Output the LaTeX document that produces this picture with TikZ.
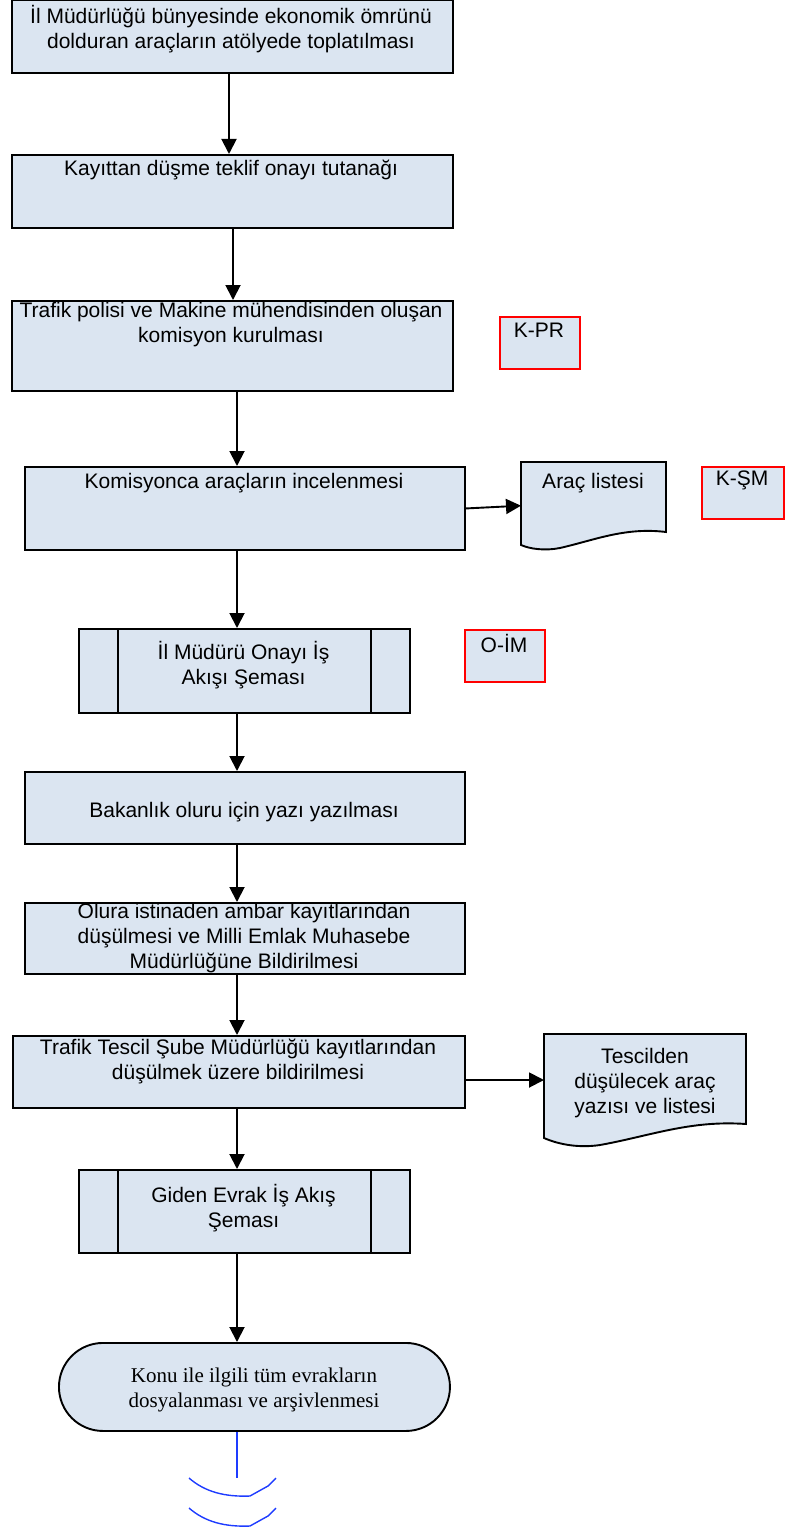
\documentclass[tikz,border=0pt]{standalone}
\usepackage{fontspec}
\setmainfont{Liberation Sans}
\newfontfamily\tnr{Liberation Serif}
\usetikzlibrary{arrows.meta,calc}
\definecolor{boxfill}{RGB}{219,229,241}
\definecolor{arcblue}{RGB}{30,60,255}
\begin{document}
\begin{tikzpicture}[x=1pt,y=-1pt,
  font=\fontsize{21}{25}\selectfont,
  box/.style={draw=black,line width=1.9pt,fill=boxfill,rectangle,inner sep=0pt,anchor=north west},
  refbox/.style={draw=red,line width=1.8pt,fill=boxfill,rectangle,inner sep=0pt,anchor=north west},
  txt/.style={align=center,inner sep=0pt},
  arr/.style={line width=1.9pt,-{Triangle[length=15pt,width=15pt]}},
  docshape/.style={draw=black,line width=1.9pt,fill=boxfill},
  ghost/.style={rectangle,draw=none,inner sep=0pt,anchor=north west},
  blueline/.style={draw=arcblue,line width=1.4pt}]
\useasboundingbox (0,0) rectangle (799,1530);

% main boxes
\node[box,minimum width=441pt,minimum height=73pt] (b1) at (11,-1) {};
\node[box,minimum width=441pt,minimum height=73pt] (b2) at (11,154) {};
\node[box,minimum width=441pt,minimum height=90pt] (b3) at (11,300) {};
\node[box,minimum width=440pt,minimum height=83pt] (b4) at (24,466) {};
\node[box,minimum width=331pt,minimum height=84pt] (b5) at (78,628) {};
\node[box,minimum width=440pt,minimum height=72pt] (b6) at (24,771) {};
\node[box,minimum width=440pt,minimum height=71pt] (b7) at (24,902) {};
\node[box,minimum width=452pt,minimum height=72pt] (b8) at (12,1035) {};
\node[box,minimum width=331pt,minimum height=83pt] (b9) at (78,1169) {};
\node[box,minimum width=391pt,minimum height=88pt,rounded corners=44pt] (term) at (58,1342) {};

% predefined process inner lines
\draw[line width=1.7pt] ($(b5.north west)+(40,0)$) -- ($(b5.south west)+(40,0)$);
\draw[line width=1.7pt] ($(b5.north east)+(-40,0)$) -- ($(b5.south east)+(-40,0)$);
\draw[line width=1.7pt] ($(b9.north west)+(40,0)$) -- ($(b9.south west)+(40,0)$);
\draw[line width=1.7pt] ($(b9.north east)+(-40,0)$) -- ($(b9.south east)+(-40,0)$);

% red reference boxes
\node[refbox,minimum width=80pt,minimum height=52pt] (kpr) at (499,316) {};
\node[refbox,minimum width=82pt,minimum height=52pt] (ksm) at (701,466) {};
\node[refbox,minimum width=80pt,minimum height=52pt] (oim) at (464,629) {};

% documents
\node[ghost,minimum width=145pt,minimum height=87pt] (d1) at (521,462) {};
\path[docshape] (521,462) -- (666,462) -- (666,532)
  .. controls (625,527) and (595,540) .. (560,548)
  .. controls (545,551) and (530,549) .. (521,545) -- cycle;
\node[ghost,minimum width=202pt,minimum height=112pt] (d2) at (544,1034) {};
\path[docshape] (544,1034) -- (746,1034) -- (746,1124)
  .. controls (690,1120) and (650,1136) .. (600,1145)
  .. controls (580,1148) and (560,1145) .. (544,1138) -- cycle;

% texts
\node[txt] (t1) at (231,29.5) {İl Müdürlüğü bünyesinde ekonomik ömrünü\\dolduran araçların atölyede toplatılması};
\node[txt] (t2) at (231,170) {Kayıttan düşme teklif onayı tutanağı};
\node[txt] (t3) at (231,325) {Trafik polisi ve Makine mühendisinden oluşan\\komisyon kurulması};
\node[txt] (t4) at (244,483) {Komisyonca araçların incelenmesi};
\node[txt] (t5) at (243.5,665.5) {İl Müdürü Onayı İş\\Akışı Şeması};
\node[txt] (t6) at (244,812) {Bakanlık oluru için yazı yazılması};
\node[txt] (t7) at (244,938) {Olura istinaden ambar kayıtlarından\\düşülmesi ve Milli Emlak Muhasebe\\Müdürlüğüne Bildirilmesi};
\node[txt] (t8) at (238,1061.5) {Trafik Tescil Şube Müdürlüğü kayıtlarından\\düşülmek üzere bildirilmesi};
\node[txt] (t9) at (243.5,1208.5) {Giden Evrak İş Akış\\Şeması};
\node[txt,font=\tnr\fontsize{21}{25}\selectfont] (tt) at (254,1389.5) {Konu ile ilgili tüm evrakların\\dosyalanması ve arşivlenmesi};
\node[txt] (tkpr) at (539,330) {K-PR};
\node[txt] (tksm) at (742,480) {K-ŞM};
\node[txt] (toim) at (504,643) {O-İM};
\node[txt] (td1) at (593,483) {Araç listesi};
\node[txt] (td2) at (645,1083) {Tescilden\\düşülecek araç\\yazısı ve listesi};

% connectors
\coordinate (xa) at (229,0);
\coordinate (xb) at (233,0);
\coordinate (xc) at (237,0);
\coordinate (yb) at (0,1080);
\draw[arr] (b1.south -| xa) -- (b2.north -| xa);
\draw[arr] (b2.south -| xb) -- (b3.north -| xb);
\draw[arr] (b3.south -| xc) -- (b4.north -| xc);
\draw[arr] (b4.south -| xc) -- (b5.north -| xc);
\draw[arr] (b5.south -| xc) -- (b6.north -| xc);
\draw[arr] (b6.south -| xc) -- (b7.north -| xc);
\draw[arr] (b7.south -| xc) -- (b8.north -| xc);
\draw[arr] (b8.south -| xc) -- (b9.north -| xc);
\draw[arr] (b9.south -| xc) -- (term.north -| xc);
\draw[arr] (b4.east) -- (d1.west);
\draw[arr] (b8.east |- yb) -- (d2.west |- yb);

% blue off-page mark
\coordinate (bend) at (237,1478);
\draw[blueline] (term.south -| xc) -- (bend);
\draw[blueline] (189,1478) .. controls (205,1492) and (225,1497) .. (250,1496) -- (268,1486) -- (276,1478);
\draw[blueline] (189,1508) .. controls (205,1522) and (225,1527) .. (250,1526) -- (268,1516) -- (276,1508);
\end{tikzpicture}
\end{document}
